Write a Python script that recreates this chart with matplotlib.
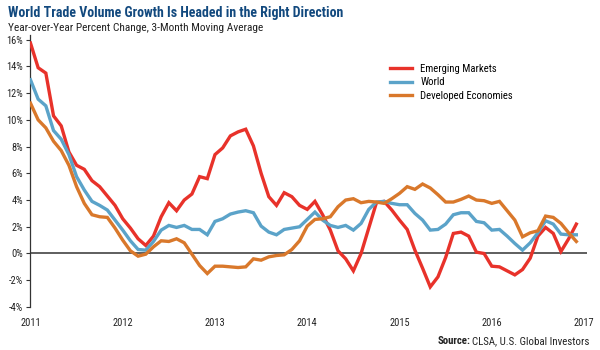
import matplotlib
matplotlib.use("Agg")
import matplotlib.pyplot as plt
from matplotlib import font_manager as fm
import numpy as np

# ---- data (monthly, Jan 2011 .. Dec 2016) ----
emerging = [15.75, 13.9, 13.5, 10.3, 9.55, 7.6, 6.6, 6.3, 5.45, 5.0, 4.3, 3.6,
            2.6, 1.9, 1.1, 0.6, 1.3, 2.75, 3.8, 3.2, 4.0, 4.45, 5.75, 5.6,
            7.4, 7.9, 8.8, 9.1, 9.3, 8.05, 6.0, 4.25, 3.6, 4.55, 4.25, 3.6,
            3.3, 3.9, 2.9, 1.75, 0.2, -0.4, -1.3, 0.0, 1.9, 3.8, 3.9, 3.25,
            2.5, 1.8, 0.25, -1.1, -2.5, -1.75, -0.3, 1.5, 1.6, 1.3, 0.1, 0.0,
            -0.95, -1.0, -1.3, -1.6, -1.2, -0.35, 1.3, 1.95, 1.5, 0.15, 1.1, 2.2]
world = [13.0, 11.55, 11.05, 9.2, 8.55, 7.4, 5.75, 4.75, 3.9, 3.6, 3.25, 2.5,
         1.75, 0.95, 0.3, 0.25, 0.9, 1.75, 2.1, 1.95, 2.1, 1.8, 1.8, 1.4,
         2.4, 2.6, 2.95, 3.1, 3.2, 3.05, 2.05, 1.6, 1.4, 1.8, 1.9, 2.0,
         2.55, 3.1, 2.5, 2.1, 1.95, 2.1, 1.75, 2.25, 3.3, 3.85, 3.9, 3.75,
         3.65, 3.65, 3.0, 2.5, 1.75, 1.8, 2.2, 2.9, 3.05, 3.05, 2.4, 2.3,
         1.75, 1.8, 1.3, 0.75, 0.25, 0.8, 1.55, 2.45, 2.2, 1.45, 1.4, 1.4]
developed = [11.25, 10.0, 9.4, 8.4, 7.7, 6.6, 5.0, 3.75, 2.9, 2.75, 2.7, 1.9,
             1.0, 0.2, -0.2, -0.05, 0.5, 0.95, 0.9, 1.1, 0.8, -0.05, -0.9, -1.5,
             -0.95, -0.95, -1.0, -1.05, -1.0, -0.4, -0.5, -0.25, -0.15, -0.1, 0.3, 0.95,
             2.05, 2.55, 2.6, 2.75, 3.5, 4.0, 4.1, 3.8, 3.9, 3.85, 3.75, 4.1,
             4.5, 5.0, 4.8, 5.2, 4.9, 4.4, 3.85, 3.85, 4.05, 4.3, 4.0, 3.95,
             3.75, 3.9, 3.2, 2.5, 1.25, 1.55, 1.7, 2.8, 2.7, 2.25, 1.55, 0.9]
start_year = 2011
series_names = ["Emerging Markets", "World", "Developed Economies"]
series_colors = ["#e8322a", "#5ba3c9", "#d9782b"]
year_ticks = [2011, 2012, 2013, 2014, 2015, 2016, 2017]
pct_ticks = [-4, -2, 0, 2, 4, 6, 8, 10, 12, 14, 16]

# ---- font selection ----
def pick(families):
    names = {f.name for f in fm.fontManager.ttflist}
    for f in families:
        if f in names:
            return f
    return "DejaVu Sans"

font = pick(["Liberation Sans Narrow", "Roboto Condensed", "Roboto", "Liberation Sans"])
plt.rcParams["font.family"] = [font, "DejaVu Sans"]

fig = plt.figure(figsize=(6, 3.5), dpi=100)
ax = fig.add_axes([0.05, 0.123, 0.928, 0.777])

x = start_year + np.arange(len(emerging)) / 12.0
for vals, name, col in zip([emerging, world, developed], series_names, series_colors):
    ax.plot(x, vals, color=col, lw=2.4, label=name, solid_joinstyle="miter", zorder=3)

ax.axhline(0, color="#333333", lw=1.1, zorder=2)

ax.set_xlim(2010.995, 2017.03)
ax.set_ylim(-4, 16.35)
ax.set_yticks(pct_ticks)
ax.set_yticklabels([f"{v}%" for v in pct_ticks], fontsize=7.5, color="#222222")
ax.set_xticks(year_ticks)
ax.set_xticklabels([str(y) for y in year_ticks], fontsize=7.5, color="#222222")
ax.tick_params(axis="x", length=0, pad=8)
ax.tick_params(axis="y", length=3, width=0.8, color="#333333", pad=2, direction="out")
for s in ["top", "right", "bottom"]:
    ax.spines[s].set_visible(False)
ax.spines["left"].set_color("#333333")
ax.spines["left"].set_linewidth(0.9)
ax.spines["left"].set_bounds(-4, 16.35)

leg = ax.legend(loc="upper left", bbox_to_anchor=(0.63, 0.93), frameon=False,
                fontsize=7.7, handlelength=2.0, handletextpad=0.8, labelspacing=0.35)

fig.text(0.013, 0.952, "World Trade Volume Growth Is Headed in the Right Direction",
         fontsize=10, fontweight="bold", color="#12497e", ha="left", va="baseline")
fig.text(0.013, 0.912, "Year-over-Year Percent Change, 3-Month Moving Average",
         fontsize=8.2, color="#222222", ha="left", va="baseline")

t1 = fig.text(0.983, 0.016, "CLSA, U.S. Global Investors", fontsize=7.8,
              color="#222222", ha="right", va="baseline")
fig.canvas.draw()
bb = t1.get_window_extent()
fig.text(bb.x0 / fig.bbox.width - 0.004, 0.016, "Source:", fontsize=7.8, fontweight="bold",
         color="#222222", ha="right", va="baseline")

fig.savefig("out.png", dpi=100)
